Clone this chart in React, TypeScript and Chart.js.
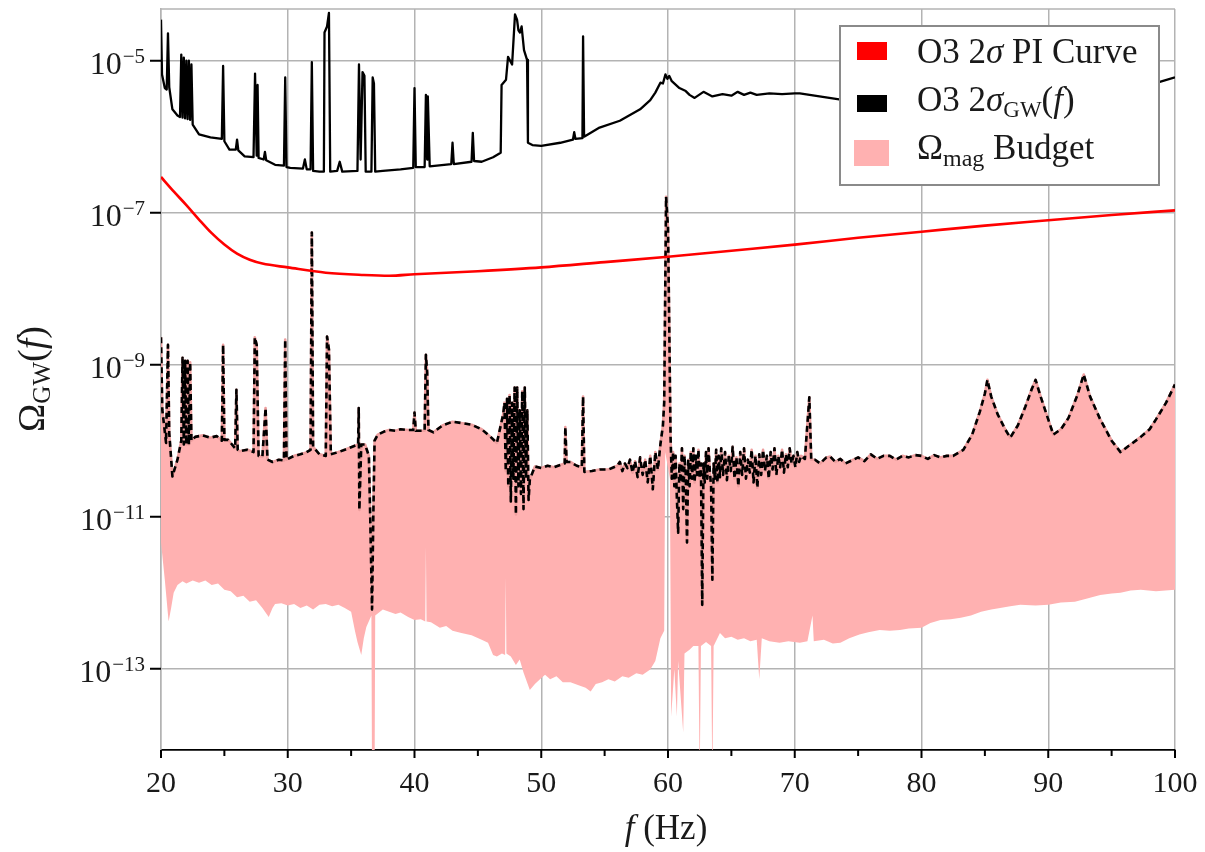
import React, { useEffect, useRef } from "react";
import { Chart, registerables } from "chart.js";

Chart.register(...registerables);

// ---------- data (frequencies in Hz, values as log10 of Omega_GW) ----------
const piCurveHz = [20, 21, 22, 23, 24, 25, 26, 27, 28, 30, 33, 36, 38, 40, 45, 50, 55, 60, 65, 70, 75, 80, 85, 90, 95, 100];
const piCurveLog10 = [-6.53, -6.72, -6.9, -7.09, -7.27, -7.42, -7.54, -7.62, -7.67, -7.72, -7.79, -7.82, -7.83, -7.81, -7.77, -7.72, -7.65, -7.58, -7.5, -7.42, -7.33, -7.25, -7.17, -7.1, -7.03, -6.97];

const sigmaGwHz = [
  20.0, 20.08, 20.3, 20.45, 20.55, 20.65, 20.9, 21.3, 21.5, 21.6, 21.7, 21.8, 21.9, 22.0, 22.1, 22.2, 22.3, 22.4, 22.5, 23.0,
  23.9, 24.8, 24.9, 25.0, 25.4, 25.9, 26.0, 26.1, 26.6, 27.3, 27.42, 27.55, 27.62, 27.7, 28.1, 28.2, 28.3, 29.0, 29.7, 29.8,
  29.9, 30.2, 31.2, 31.35, 31.5, 31.8, 31.9, 32.0, 32.5, 32.85, 32.9, 33.1, 33.25, 33.35, 33.9, 34.1, 34.3, 35.5, 35.62, 35.75,
  35.9, 36.05, 36.15, 36.6, 36.7, 36.8, 36.9, 37.5, 38.9, 39.9, 40.0, 40.1, 40.8, 40.9, 41.0, 41.05, 41.2, 42.9, 43.0, 43.1,
  44.5, 44.6, 44.7, 45.3, 46.2, 46.8, 46.87, 47.22, 47.38, 47.7, 47.93, 48.09, 48.2, 48.32, 48.45, 48.64, 48.88, 48.95, 49.3, 50.0,
  51.5, 52.5, 52.6, 52.7, 53.25, 53.3, 53.38, 54.6, 56.2, 57.8, 58.6, 59.0, 59.4, 59.6, 59.8, 59.95, 60.1, 60.3, 60.9, 61.4,
  61.7, 62.1, 62.8, 63.5, 64.3, 65.0, 65.5, 66.0, 66.5, 67.0, 68.0, 69.0, 70.0, 70.4, 73.5, 76.0, 80.0, 85.0, 90.0, 95.0,
  98.8, 100,
];
const sigmaGwLog10 = [
  -4.46, -5.18, -5.36, -5.38, -4.64, -5.35, -5.64, -5.72, -5.74, -4.92, -5.75, -4.96, -5.76, -5.0, -5.77, -5.0, -5.78, -5.05, -5.84, -5.97,
  -6.01, -6.03, -5.07, -6.06, -6.17, -6.17, -6.04, -6.18, -6.26, -6.27, -5.17, -6.25, -5.32, -6.28, -6.3, -6.2, -6.31, -6.37, -6.38, -5.22,
  -6.4, -6.41, -6.42, -6.3, -6.43, -6.43, -5.02, -6.45, -6.46, -6.46, -4.63, -4.55, -4.37, -6.46, -6.45, -6.33, -6.46, -6.45, -5.05, -6.3,
  -5.15, -5.2, -6.46, -6.46, -5.22, -5.3, -6.46, -6.45, -6.43, -6.41, -5.36, -6.4, -6.4, -5.45, -6.3, -5.47, -6.39, -6.36, -6.08, -6.36,
  -6.33, -5.95, -6.32, -6.33, -6.27, -6.21, -5.32, -5.25, -4.95, -5.05, -4.39, -4.46, -4.6, -4.63, -4.55, -4.86, -4.99, -6.08, -6.11, -6.12,
  -6.08, -6.04, -5.94, -6.03, -6.02, -4.68, -6.0, -5.88, -5.79, -5.64, -5.52, -5.42, -5.29, -5.3, -5.18, -5.24, -5.2, -5.27, -5.36, -5.4,
  -5.45, -5.49, -5.41, -5.47, -5.44, -5.46, -5.41, -5.45, -5.42, -5.45, -5.43, -5.44, -5.43, -5.43, -5.51, -5.52, -5.47, -5.4, -5.34, -5.3,
  -5.28, -5.22,
];

const budgetUpperHz = [
  20.0, 20.1, 20.4, 20.55, 20.65, 20.9, 21.3, 21.6, 21.7, 21.8, 21.9, 22.0, 22.1, 22.2, 22.3, 22.4, 22.7, 23.3, 23.9, 24.4,
  24.8, 24.9, 25.0, 25.3, 25.85, 25.95, 26.05, 26.2, 26.8, 27.3, 27.4, 27.55, 27.7, 28.0, 28.25, 28.4, 28.8, 29.3, 29.7, 29.8,
  29.9, 30.5, 31.0, 31.4, 31.8, 31.9, 32.0, 32.5, 33.0, 33.1, 33.25, 33.4, 34.0, 34.5, 35.1, 35.55, 35.6, 35.65, 35.8, 36.1,
  36.4, 36.5, 36.65, 36.75, 36.85, 37.1, 37.6, 38.0, 38.5, 38.9, 39.5, 39.9, 40.0, 40.1, 40.8, 40.9, 41.0, 41.1, 41.5, 42.2,
  43.0, 43.8, 44.5, 45.3, 46.0, 46.5, 47.0, 47.1, 47.2, 47.3, 47.4, 47.5, 47.6, 47.7, 47.8, 47.9, 48.0, 48.1, 48.2, 48.3,
  48.4, 48.5, 48.6, 48.7, 48.8, 48.9, 49.0, 49.1, 49.5, 50.0, 50.5, 51.0, 51.5, 51.85, 51.9, 52.0, 52.3, 52.8, 53.2, 53.3,
  53.4, 54.0, 54.6, 55.3, 56.0, 56.2, 56.4, 56.6, 56.8, 57.0, 57.2, 57.4, 57.6, 57.8, 58.0, 58.2, 58.4, 58.6, 58.8, 59.0,
  59.2, 59.4, 59.6, 59.7, 59.85, 60.0, 60.1, 60.2, 60.3, 60.4, 60.5, 60.6, 60.7, 60.8, 60.9, 61.0, 61.1, 61.2, 61.3, 61.4,
  61.5, 61.6, 61.7, 61.8, 61.9, 62.0, 62.1, 62.2, 62.3, 62.4, 62.5, 62.6, 62.7, 62.8, 62.9, 63.0, 63.1, 63.2, 63.3, 63.4,
  63.5, 63.6, 63.7, 63.8, 63.9, 64.0, 64.1, 64.2, 64.35, 64.5, 64.65, 64.8, 64.95, 65.1, 65.25, 65.4, 65.55, 65.7, 65.85, 66.0,
  66.15, 66.3, 66.45, 66.6, 66.75, 66.9, 67.05, 67.2, 67.35, 67.5, 67.65, 67.8, 67.95, 68.1, 68.25, 68.4, 68.55, 68.7, 68.85, 69.0,
  69.15, 69.3, 69.45, 69.6, 69.75, 69.9, 70.05, 70.2, 70.35, 70.5, 70.8, 71.15, 71.3, 71.6, 72.0, 72.5, 72.8, 73.2, 73.6, 74.0,
  74.5, 75.0, 75.5, 76.0, 76.5, 77.0, 77.5, 78.0, 78.5, 79.0, 79.5, 80.0, 80.5, 81.0, 81.5, 82.0, 82.5, 83.0, 83.3, 84.0,
  84.6, 85.0, 85.2, 85.5, 86.0, 86.6, 87.0, 87.6, 88.2, 88.7, 89.0, 89.4, 90.0, 90.4, 91.0, 91.6, 92.3, 92.8, 93.3, 94.1,
  95.0, 95.7, 96.5, 97.3, 98.0, 98.5, 99.3, 100,
];
const budgetUpperLog10 = [
  -8.64, -9.59, -10.03, -8.74, -9.9, -10.47, -10.25, -10.0, -8.91, -10.05, -8.95, -10.05, -8.95, -10.05, -8.97, -10.0, -9.95, -9.93, -9.96, -9.94,
  -10.0, -8.74, -9.99, -9.99, -10.1, -9.33, -10.12, -10.14, -10.12, -10.15, -8.64, -8.74, -10.2, -10.21, -9.57, -10.25, -10.28, -10.25, -10.26, -8.67,
  -10.25, -10.2, -10.18, -10.16, -10.12, -7.26, -10.08, -10.18, -10.2, -8.63, -8.8, -10.18, -10.15, -10.12, -10.08, -10.05, -9.57, -10.91, -10.05, -10.05,
  -10.2, -10.95, -12.22, -11.0, -10.0, -9.92, -9.88, -9.86, -9.87, -9.85, -9.86, -9.86, -9.63, -9.87, -9.87, -8.87, -9.1, -9.86, -9.89, -9.8,
  -9.75, -9.77, -9.79, -9.85, -9.95, -10.03, -9.65, -9.5, -10.4, -9.45, -10.6, -9.4, -10.8, -9.5, -10.5, -9.3, -10.97, -9.3, -10.6, -9.6,
  -10.7, -9.35, -10.9, -9.3, -10.5, -9.6, -10.78, -10.51, -10.34, -10.36, -10.33, -10.35, -10.32, -10.3, -9.82, -10.28, -10.28, -10.33, -10.35, -9.42,
  -10.41, -10.4, -10.38, -10.38, -10.33, -10.28, -10.4, -10.3, -10.36, -10.25, -10.42, -10.27, -10.48, -10.22, -10.45, -10.25, -10.55, -10.2, -10.64, -10.15,
  -10.38, -10.05, -9.8, -9.5, -6.79, -7.2, -8.5, -9.95, -10.5, -10.15, -10.6, -10.2, -10.75, -11.21, -10.3, -10.55, -10.1, -10.9, -10.2, -10.45,
  -11.34, -10.25, -10.6, -10.15, -10.5, -10.1, -10.55, -10.2, -10.45, -10.12, -10.5, -10.3, -12.16, -10.3, -10.55, -10.15, -10.5, -10.1, -10.4, -10.6,
  -11.83, -10.3, -10.5, -10.12, -10.55, -10.2, -10.48, -10.1, -10.45, -10.15, -10.52, -10.2, -10.4, -10.08, -10.5, -10.22, -10.6, -10.15, -10.45, -10.1,
  -10.5, -10.25, -10.42, -10.12, -10.55, -10.2, -10.62, -10.18, -10.45, -10.12, -10.4, -10.2, -10.5, -10.15, -10.38, -10.1, -10.45, -10.2, -10.35, -10.12,
  -10.42, -10.18, -10.35, -10.1, -10.3, -10.2, -10.35, -10.15, -10.28, -10.2, -10.24, -9.43, -10.25, -10.25, -10.3, -10.22, -10.21, -10.28, -10.24, -10.3,
  -10.26, -10.22, -10.27, -10.18, -10.24, -10.2, -10.2, -10.25, -10.2, -10.22, -10.19, -10.2, -10.24, -10.19, -10.22, -10.2, -10.2, -10.15, -10.12, -9.92,
  -9.62, -9.38, -9.2, -9.42, -9.65, -9.85, -9.96, -9.8, -9.55, -9.32, -9.2, -9.42, -9.72, -9.92, -9.85, -9.7, -9.4, -9.13, -9.42, -9.72,
  -10.0, -10.15, -10.05, -9.95, -9.85, -9.72, -9.5, -9.26,
];

const budgetLowerHz = [
  20.0, 20.3, 20.6, 20.8, 21.0, 21.3, 21.7, 22.0, 22.5, 23.0, 23.5, 24.0, 24.5, 25.0, 25.5, 26.0, 26.5, 27.0, 27.5, 28.0,
  28.5, 28.8, 29.0, 29.5, 30.0, 30.5, 31.0, 31.5, 32.0, 32.5, 33.0, 33.5, 34.0, 34.5, 35.0, 35.3, 35.5, 35.8, 36.0, 36.2,
  36.6, 36.65, 36.85, 36.9, 37.5, 38.0, 38.5, 38.9, 39.5, 40.0, 40.5, 40.85, 40.9, 40.95, 41.3, 42.0, 42.5, 43.0, 43.7, 44.5,
  45.3, 45.8, 46.2, 46.5, 46.9, 47.15, 47.2, 47.25, 47.6, 48.0, 48.3, 48.6, 49.1, 49.5, 49.9, 50.3, 50.7, 51.2, 51.7, 52.3,
  53.0, 53.5, 53.9, 54.3, 54.8, 55.3, 55.8, 56.4, 56.9, 57.5, 58.0, 58.6, 59.0, 59.4, 59.7, 59.78, 60.15, 60.25, 60.5, 60.7,
  60.8, 61.2, 61.3, 61.7, 62.0, 62.4, 62.5, 62.6, 63.0, 63.4, 63.5, 63.6, 64.1, 64.5, 65.0, 65.5, 66.0, 66.5, 67.0, 67.2,
  67.4, 68.0, 68.8, 69.5, 70.4, 71.0, 71.4, 71.5, 72.3, 73.0, 73.6, 74.3, 75.1, 75.8, 76.7, 77.5, 78.3, 79.0, 80.0, 80.7,
  81.5, 82.3, 83.1, 83.9, 84.7, 85.5, 86.2, 87.0, 87.8, 89.0, 90.0, 91.0, 92.1, 93.0, 94.1, 95.0, 95.7, 96.5, 97.3, 98.5,
  100,
];
const budgetLowerLog10 = [
  -11.34, -11.83, -12.38, -12.2, -12.0, -11.9, -11.85, -11.88, -11.84, -11.87, -11.84, -11.9, -11.88, -11.96, -11.98, -12.06, -12.04, -12.12, -12.1, -12.2,
  -12.32, -12.2, -12.15, -12.14, -12.17, -12.15, -12.2, -12.17, -12.22, -12.16, -12.15, -12.18, -12.16, -12.2, -12.25, -12.5, -12.65, -12.82, -12.6, -12.45,
  -12.3, -14.5, -14.5, -12.3, -12.22, -12.25, -12.28, -12.26, -12.32, -12.36, -12.35, -12.38, -11.4, -12.38, -12.39, -12.46, -12.44, -12.5, -12.53, -12.56,
  -12.62, -12.66, -12.82, -12.84, -12.8, -12.82, -11.8, -12.8, -12.84, -12.95, -12.88, -13.05, -13.28, -13.2, -13.14, -13.08, -13.14, -13.1, -13.18, -13.18,
  -13.22, -13.25, -13.3, -13.2, -13.18, -13.14, -13.17, -13.1, -13.12, -13.06, -13.08, -13.01, -12.9, -12.6, -12.5, -10.15, -10.5, -13.63, -13.0, -13.63,
  -12.9, -13.84, -12.8, -12.75, -12.7, -12.7, -14.5, -12.7, -12.65, -12.7, -14.5, -12.7, -12.53, -12.6, -12.58, -12.62, -12.6, -12.64, -12.62, -13.14,
  -12.6, -12.64, -12.66, -12.64, -12.66, -12.64, -12.3, -12.64, -12.62, -12.67, -12.66, -12.6, -12.55, -12.52, -12.49, -12.5, -12.49, -12.47, -12.46, -12.4,
  -12.36, -12.35, -12.33, -12.3, -12.25, -12.22, -12.2, -12.18, -12.16, -12.17, -12.16, -12.13, -12.12, -12.08, -12.03, -12.01, -12.0, -11.97, -11.96, -11.98,
  -11.96,
];

const xTickLabels = [20, 30, 40, 50, 60, 70, 80, 90, 100];
const xMinorTicks = [25, 35, 45, 55, 65, 75, 85, 95];
const yTickExponents = [-13, -11, -9, -7, -5];

// ---------- styling ----------
const SERIF = '"Liberation Serif", "DejaVu Serif", serif';
const GRID = "#b3b3b3";
const TEXT = "#1a1a1a";
const PINK = "#ffb1b1";

type Run = { t: string; size: number; italic?: boolean; dy?: number };
const fontOf = (r: Run) => `${r.italic ? "italic " : ""}${r.size}px ${SERIF}`;
function runsWidth(ctx: CanvasRenderingContext2D, runs: Run[]) {
  let w = 0;
  for (const r of runs) {
    ctx.font = fontOf(r);
    w += ctx.measureText(r.t).width;
  }
  return w;
}
function drawRuns(ctx: CanvasRenderingContext2D, runs: Run[], x: number, y: number, align: "left" | "center") {
  const w = runsWidth(ctx, runs);
  let cx = align === "center" ? x - w / 2 : x;
  ctx.textAlign = "left";
  ctx.textBaseline = "alphabetic";
  for (const r of runs) {
    ctx.font = fontOf(r);
    ctx.fillText(r.t, cx, y + (r.dy || 0));
    cx += ctx.measureText(r.t).width;
  }
}

const legendItems: { color: string; swatch: [number, number, number, number]; runs: Run[] }[] = [
  {
    color: "#ff0000",
    swatch: [857, 42, 30, 18],
    runs: [{ t: "O3 2", size: 35 }, { t: "σ", size: 35, italic: true }, { t: " PI Curve", size: 35 }],
  },
  {
    color: "#000000",
    swatch: [857, 95, 30, 17],
    runs: [
      { t: "O3 2", size: 35 },
      { t: "σ", size: 35, italic: true },
      { t: "GW", size: 23, dy: 6 },
      { t: "(", size: 35 },
      { t: "f", size: 35, italic: true },
      { t: ")", size: 35 },
    ],
  },
  {
    color: PINK,
    swatch: [854, 140, 35, 26],
    runs: [{ t: "Ω", size: 35 }, { t: "mag", size: 24, dy: 7 }, { t: " Budget", size: 35 }],
  },
];
const legendBaselines = [63, 111, 159];

const decorPlugin = {
  id: "decor",
  afterDraw(chart: any) {
    const { ctx, chartArea: a, scales } = chart;
    const xs = scales.x;
    const ys = scales.y;
    ctx.save();
    // top frame
    ctx.strokeStyle = GRID;
    ctx.lineWidth = 1.5;
    ctx.beginPath();
    ctx.moveTo(a.left, a.top);
    ctx.lineTo(a.right, a.top);
    ctx.stroke();
    // tick marks
    ctx.strokeStyle = "#000";
    ctx.lineWidth = 2;
    ctx.beginPath();
    for (const v of xTickLabels) {
      const px = xs.getPixelForValue(v);
      ctx.moveTo(px, a.bottom);
      ctx.lineTo(px, a.bottom + 8);
    }
    for (const v of xMinorTicks) {
      const px = xs.getPixelForValue(v);
      ctx.moveTo(px, a.bottom);
      ctx.lineTo(px, a.bottom + 6);
    }
    for (const e of yTickExponents) {
      const py = ys.getPixelForValue(Math.pow(10, e));
      ctx.moveTo(a.left - 11, py);
      ctx.lineTo(a.left, py);
    }
    ctx.stroke();
    // x tick labels
    ctx.fillStyle = TEXT;
    ctx.font = `30px ${SERIF}`;
    ctx.textAlign = "center";
    ctx.textBaseline = "alphabetic";
    for (const v of xTickLabels) {
      ctx.fillText(String(v), xs.getPixelForValue(v), a.bottom + 42);
    }
    // y tick labels: 10^e
    for (const e of yTickExponents) {
      const py = ys.getPixelForValue(Math.pow(10, e));
      const exp = "\u2212" + Math.abs(e);
      ctx.font = `21px ${SERIF}`;
      const ew = ctx.measureText(exp).width;
      const right = a.left - 16;
      ctx.textAlign = "right";
      ctx.fillText(exp, right, py + 2);
      ctx.font = `32px ${SERIF}`;
      ctx.fillText("10", right - ew - 1, py + 13);
    }
    // x title
    drawRuns(ctx, [{ t: "f", size: 35, italic: true }, { t: " (Hz)", size: 35 }], 666, 839, "center");
    // y title
    ctx.save();
    ctx.translate(44, 379);
    ctx.rotate(-Math.PI / 2);
    drawRuns(
      ctx,
      [
        { t: "Ω", size: 38 },
        { t: "GW", size: 25, dy: 6 },
        { t: "(", size: 38 },
        { t: "f", size: 38, italic: true },
        { t: ")", size: 38 },
      ],
      0,
      0,
      "center"
    );
    ctx.restore();
    // legend
    ctx.fillStyle = "#ffffff";
    ctx.fillRect(840, 26, 319, 159);
    ctx.strokeStyle = "#8a8a8a";
    ctx.lineWidth = 2;
    ctx.strokeRect(840, 26, 319, 159);
    legendItems.forEach((it, i) => {
      ctx.fillStyle = it.color;
      const [sx, sy, sw, sh] = it.swatch;
      ctx.fillRect(sx, sy, sw, sh);
      ctx.fillStyle = TEXT;
      drawRuns(ctx, it.runs, 917, legendBaselines[i], "left");
    });
    ctx.restore();
  },
};

const toPoints = (hz: number[], lg: number[]) => hz.map((f, i) => ({ x: f, y: Math.pow(10, lg[i]) }));

export default function App() {
  const ref = useRef<HTMLCanvasElement | null>(null);
  useEffect(() => {
    if (!ref.current) return;
    const chart = new Chart(ref.current, {
      type: "line",
      data: {
        datasets: [
          {
            label: "O3 2σGW(f)",
            data: toPoints(sigmaGwHz, sigmaGwLog10),
            borderColor: "#000000",
            borderWidth: 2.3,
            borderJoinStyle: "round",
            pointRadius: 0,
            fill: false,
            order: 1,
          },
          {
            label: "O3 2σ PI Curve",
            data: toPoints(piCurveHz, piCurveLog10),
            borderColor: "#ff0000",
            borderWidth: 2.6,
            pointRadius: 0,
            cubicInterpolationMode: "monotone",
            fill: false,
            order: 2,
          },
          {
            label: "budget edge",
            data: toPoints(budgetUpperHz, budgetUpperLog10),
            borderColor: "#000000",
            borderWidth: 2.6,
            borderDash: [6, 4],
            borderJoinStyle: "round",
            pointRadius: 0,
            fill: false,
            order: 3,
          },
          {
            label: "Ωmag Budget",
            data: toPoints(budgetUpperHz, budgetUpperLog10),
            borderColor: "#ee9f9f",
            borderWidth: 2.6,
            borderJoinStyle: "round",
            backgroundColor: PINK,
            pointRadius: 0,
            fill: 4,
            order: 4,
          },
          {
            label: "budget lower",
            data: toPoints(budgetLowerHz, budgetLowerLog10),
            borderColor: "rgba(0,0,0,0)",
            borderWidth: 0,
            pointRadius: 0,
            fill: false,
            order: 5,
          },
        ],
      },
      options: {
        responsive: false,
        animation: false,
        events: [],
        layout: { padding: { top: 9, right: 30, left: 0, bottom: 0 } },
        plugins: { legend: { display: false }, tooltip: { enabled: false } },
        scales: {
          x: {
            type: "linear",
            min: 20,
            max: 100,
            ticks: { stepSize: 10, display: false },
            grid: { color: GRID, lineWidth: 1.5, drawTicks: false },
            border: { color: "#000000", width: 1.8 },
            afterFit: (s: any) => {
              s.height = 102;
            },
          },
          y: {
            type: "logarithmic",
            min: Math.pow(10, -14.07),
            max: Math.pow(10, -4.32),
            ticks: { display: false },
            grid: { color: GRID, lineWidth: 1.5, drawTicks: false },
            border: { color: GRID, width: 1.5 },
            afterBuildTicks: (s: any) => {
              s.ticks = yTickExponents.map((e) => ({ value: Math.pow(10, e) }));
            },
            afterFit: (s: any) => {
              s.width = 161;
            },
          },
        },
      },
      plugins: [decorPlugin],
    } as any);
    return () => chart.destroy();
  }, []);
  return (
    <div style={{ position: "absolute", left: 0, top: 0, width: 1205, height: 852, background: "#ffffff" }}>
      <canvas ref={ref} width={1205} height={852} style={{ display: "block" }} />
    </div>
  );
}
